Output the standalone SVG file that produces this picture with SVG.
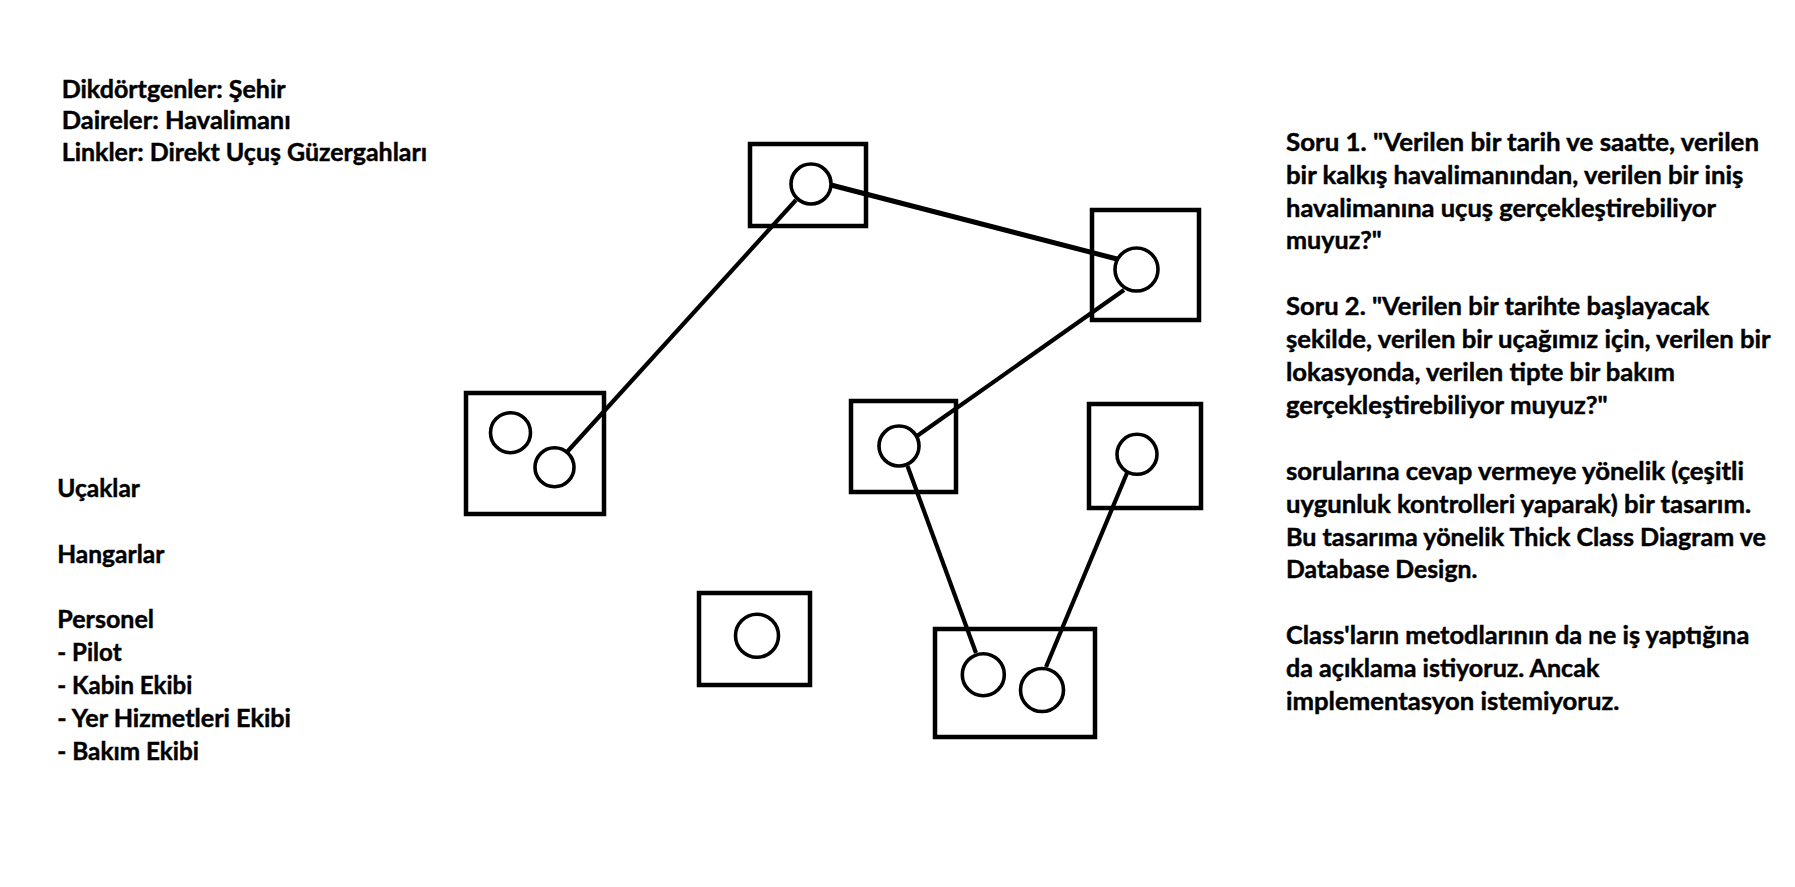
<svg xmlns="http://www.w3.org/2000/svg" width="1795" height="887" viewBox="0 0 1795 887">
<style>
.city{fill:none;stroke:#000;stroke-width:4.5}
.ap{fill:#fff;stroke:#000;stroke-width:3.6}
.link{stroke:#000;stroke-width:4.2;stroke-linecap:butt;fill:none}
.t{font-family:Lato,"Open Sans","Liberation Sans",sans-serif;font-weight:bold;font-size:24.8px;fill:#000;stroke:#000;stroke-width:0.45}
</style>
<rect width="1795" height="887" fill="#fff"/>
<g id="legend-top">
<text class="t" x="61.7" y="97.7" textLength="224" lengthAdjust="spacingAndGlyphs">Dikdörtgenler: Şehir</text>
<text class="t" x="61.7" y="129.3" textLength="229" lengthAdjust="spacingAndGlyphs">Daireler: Havalimanı</text>
<text class="t" x="61.7" y="161" textLength="365.5" lengthAdjust="spacingAndGlyphs">Linkler: Direkt Uçuş Güzergahları</text>
</g>
<g id="legend-bottom">
<text class="t" x="57.3" y="496.7" textLength="82.7" lengthAdjust="spacingAndGlyphs">Uçaklar</text>
<text class="t" x="57.3" y="562.5" textLength="107" lengthAdjust="spacingAndGlyphs">Hangarlar</text>
<text class="t" x="57.3" y="628.3" textLength="96.7" lengthAdjust="spacingAndGlyphs">Personel</text>
<text class="t" x="57.3" y="661.2" textLength="64.3" lengthAdjust="spacingAndGlyphs">- Pilot</text>
<text class="t" x="57.3" y="694.1" textLength="135" lengthAdjust="spacingAndGlyphs">- Kabin Ekibi</text>
<text class="t" x="57.3" y="727" textLength="233.7" lengthAdjust="spacingAndGlyphs">- Yer Hizmetleri Ekibi</text>
<text class="t" x="57.3" y="759.9" textLength="141.7" lengthAdjust="spacingAndGlyphs">- Bakım Ekibi</text>
</g>
<g id="questions">
<text class="t" x="1286" y="150.7" textLength="473" lengthAdjust="spacingAndGlyphs">Soru 1. "Verilen bir tarih ve saatte, verilen</text>
<text class="t" x="1286" y="183.6" textLength="457.3" lengthAdjust="spacingAndGlyphs">bir kalkış havalimanından, verilen bir iniş</text>
<text class="t" x="1286" y="216.5" textLength="430" lengthAdjust="spacingAndGlyphs">havalimanına uçuş gerçekleştirebiliyor</text>
<text class="t" x="1286" y="249.4" textLength="95.7" lengthAdjust="spacingAndGlyphs">muyuz?"</text>
<text class="t" x="1286" y="315.2" textLength="423.3" lengthAdjust="spacingAndGlyphs">Soru 2. "Verilen bir tarihte başlayacak</text>
<text class="t" x="1286" y="348.1" textLength="484.7" lengthAdjust="spacingAndGlyphs">şekilde, verilen bir uçağımız için, verilen bir</text>
<text class="t" x="1286" y="381" textLength="389" lengthAdjust="spacingAndGlyphs">lokasyonda, verilen tipte bir bakım</text>
<text class="t" x="1286" y="413.9" textLength="321.7" lengthAdjust="spacingAndGlyphs">gerçekleştirebiliyor muyuz?"</text>
<text class="t" x="1286" y="479.7" textLength="458" lengthAdjust="spacingAndGlyphs">sorularına cevap vermeye yönelik (çeşitli</text>
<text class="t" x="1286" y="512.6" textLength="465" lengthAdjust="spacingAndGlyphs">uygunluk kontrolleri yaparak) bir tasarım.</text>
<text class="t" x="1286" y="545.5" textLength="480" lengthAdjust="spacingAndGlyphs">Bu tasarıma yönelik Thick Class Diagram ve</text>
<text class="t" x="1286" y="578.4" textLength="191.3" lengthAdjust="spacingAndGlyphs">Database Design.</text>
<text class="t" x="1286" y="644.2" textLength="463.3" lengthAdjust="spacingAndGlyphs">Class'ların metodlarının da ne iş yaptığına</text>
<text class="t" x="1286" y="677.1" textLength="313.3" lengthAdjust="spacingAndGlyphs">da açıklama istiyoruz. Ancak</text>
<text class="t" x="1286" y="710" textLength="333.3" lengthAdjust="spacingAndGlyphs">implementasyon istemiyoruz.</text>
</g>
<g id="city-A"><rect class="city" x="750" y="144" width="116" height="82"/></g>
<g id="city-B"><rect class="city" x="1092" y="210" width="107" height="110"/></g>
<g id="city-C"><rect class="city" x="466" y="393" width="138" height="121"/></g>
<g id="city-D"><rect class="city" x="851" y="401" width="105" height="91"/></g>
<g id="city-E"><rect class="city" x="1089" y="404" width="112" height="104"/></g>
<g id="city-F"><rect class="city" x="699" y="593" width="111" height="92"/></g>
<g id="city-G"><rect class="city" x="935" y="629" width="160" height="108"/></g>
<g id="connectors">
<line class="link" x1="796" y1="200" x2="567" y2="452"/>
<line class="link" x1="831" y1="185" x2="1117" y2="259" style="stroke-width:5"/>
<line class="link" x1="1124" y1="290" x2="917" y2="436"/>
<line class="link" x1="907.5" y1="466" x2="976" y2="653"/>
<line class="link" x1="1127" y1="473" x2="1046" y2="667"/>
</g>
<g id="airport-A1"><circle class="ap" cx="811" cy="184" r="20"/></g>
<g id="airport-B1"><circle class="ap" cx="1136.5" cy="269.5" r="21.5"/></g>
<g id="airport-C1"><circle class="ap" cx="510.5" cy="432.7" r="20"/></g>
<g id="airport-C2"><circle class="ap" cx="554.5" cy="467.3" r="19.5"/></g>
<g id="airport-D1"><circle class="ap" cx="899" cy="446" r="20"/></g>
<g id="airport-E1"><circle class="ap" cx="1137" cy="454.3" r="20"/></g>
<g id="airport-F1"><circle class="ap" cx="757" cy="635.7" r="21.5"/></g>
<g id="airport-G1"><circle class="ap" cx="983.3" cy="674.7" r="21"/></g>
<g id="airport-G2"><circle class="ap" cx="1042" cy="690" r="21.5"/></g>
</svg>
